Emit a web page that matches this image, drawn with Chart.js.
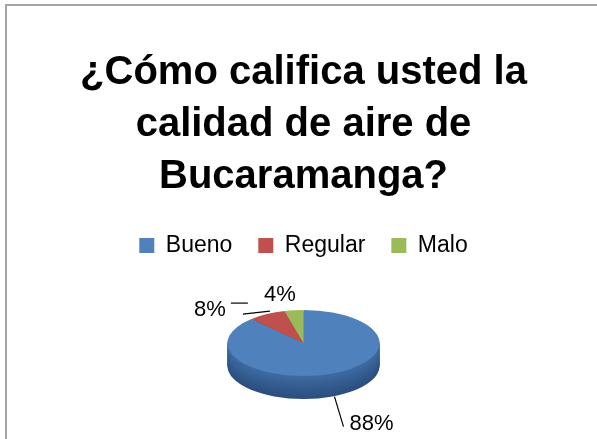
<!DOCTYPE html>
<html>
<head>
<meta charset="utf-8">
<script src="https://cdn.jsdelivr.net/npm/chart.js@4.4.0/dist/chart.umd.min.js"></script>
<style>
  html, body { margin: 0; padding: 0; background: #fff; overflow: hidden; }
  .frame { position: absolute; left: 5px; top: 4px; width: 700px; height: 600px;
           border-left: 2px solid #a3a3a3; border-top: 2px solid #a3a3a3; }
  .wrap { position: absolute; left: 0; top: 0; width: 597px; height: 439px; }
</style>
</head>
<body>
<div class="frame"></div>
<div class="wrap"><canvas id="chart"></canvas></div>
<script>
const titleLines = ['¿Cómo califica usted la', 'calidad de aire de', 'Bucaramanga?'];
const categories = ['Bueno', 'Regular', 'Malo'];
const percents = [88, 8, 4];
const topColors = ['#4F81BD', '#C0504D', '#9BBB59'];
const sideColors = [['#3F6CA3', '#2B4E7D'], ['#9E3C3A', '#7A2C2A'], ['#7E9B46', '#61782F']];

// 3d look
const flatten = 0.434;
const depth = 23;
// label placement relative to the outer edge of each slice
const labelOffsets = [[18, 27, 'left'], [-41, -4, 'right'], [-14, -15, 'center']];
const leaders = [
  [[[3, 0], [12, 30]]],
  [[[3, -3], [-24, 0]], [[-36, -11], [-19, -11]]],
  []
];

function mix(a, b, t) {
  const pa = parseInt(a.slice(1), 16), pb = parseInt(b.slice(1), 16);
  const c = [16, 8, 0].map(s => Math.round(((pa >> s) & 255) * (1 - t) + ((pb >> s) & 255) * t));
  return `rgb(${c[0]},${c[1]},${c[2]})`;
}

function squash(ctx, x, y) {
  ctx.translate(x, y);
  ctx.scale(1, flatten);
  ctx.translate(-x, -y);
}

const pie3d = {
  id: 'pie3d',
  beforeDatasetsDraw(chart) {
    const ctx = chart.ctx;
    const arcs = chart.getDatasetMeta(0).data;
    ctx.save();
    for (let d = depth; d > 0; d--) {
      ctx.save();
      ctx.translate(0, d);
      squash(ctx, arcs[0].x, arcs[0].y);
      arcs.forEach((a, i) => {
        ctx.beginPath();
        ctx.moveTo(a.x, a.y);
        ctx.arc(a.x, a.y, a.outerRadius, a.startAngle, a.endAngle);
        ctx.closePath();
        ctx.fillStyle = mix(sideColors[i][0], sideColors[i][1], d / depth);
        ctx.fill();
      });
      ctx.restore();
    }
    squash(ctx, arcs[0].x, arcs[0].y);
  },
  afterDatasetsDraw(chart) {
    chart.ctx.restore();
  },
  afterDraw(chart) {
    const ctx = chart.ctx;
    const arcs = chart.getDatasetMeta(0).data;
    ctx.save();
    ctx.font = '22px "Liberation Sans", Arial, sans-serif';
    ctx.fillStyle = '#000';
    ctx.strokeStyle = '#000';
    ctx.lineWidth = 1.2;
    ctx.textBaseline = 'middle';
    arcs.forEach((a, i) => {
      const mid = (a.startAngle + a.endAngle) / 2;
      const ex = a.x + a.outerRadius * Math.cos(mid);
      let ey = a.y + a.outerRadius * Math.sin(mid) * flatten;
      if (Math.sin(mid) > 0) ey += depth;
      leaders[i].forEach(seg => {
        ctx.beginPath();
        ctx.moveTo(ex + seg[0][0], ey + seg[0][1]);
        ctx.lineTo(ex + seg[1][0], ey + seg[1][1]);
        ctx.stroke();
      });
      const [dx, dy, align] = labelOffsets[i];
      ctx.textAlign = align;
      ctx.fillText(percents[i] + '%', ex + dx, ey + dy);
    });
    ctx.restore();
  }
};

new Chart(document.getElementById('chart'), {
  type: 'pie',
  data: {
    labels: categories,
    datasets: [{
      data: percents,
      backgroundColor: topColors,
      borderWidth: 0,
      radius: 76
    }]
  },
  options: {
    responsive: true,
    maintainAspectRatio: false,
    animation: false,
    layout: { padding: { left: 10, bottom: 20 } },
    plugins: {
      title: {
        display: true,
        text: titleLines,
        color: '#000',
        font: { family: '"Liberation Sans", Arial, sans-serif', size: 40, weight: 'bold', lineHeight: 1.3 },
        padding: { top: 47, bottom: 5 }
      },
      legend: {
        position: 'top',
        labels: {
          color: '#000',
          boxWidth: 15,
          boxHeight: 15,
          padding: 26,
          font: { family: '"Liberation Sans", Arial, sans-serif', size: 23 }
        }
      },
      tooltip: { enabled: false }
    }
  },
  plugins: [pie3d]
});
</script>
</body>
</html>
